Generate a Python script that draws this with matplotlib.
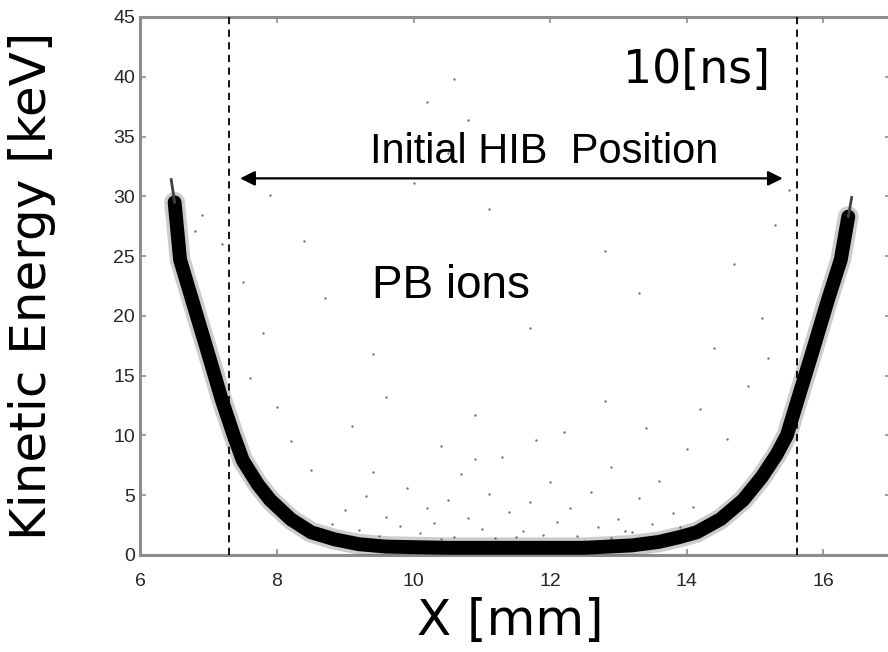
import matplotlib.pyplot as plt

# centre line of the dense ion band, x [mm] vs kinetic energy [keV]
band_x = [6.45, 6.50, 6.58, 6.80, 7.02, 7.19, 7.36, 7.50, 7.72, 7.90, 8.20, 8.50,
          8.85, 9.20, 9.60, 10.5, 11.5, 12.5, 13.2, 13.6, 13.9, 14.15, 14.50,
          14.83, 15.10, 15.32, 15.47, 15.63, 15.85, 16.07, 16.26, 16.37, 16.42]
band_e = [31.4, 29.5, 24.7, 20.5, 16.3, 13.0, 10.1, 7.9, 5.9, 4.6, 3.0, 1.9,
          1.3, 0.9, 0.7, 0.6, 0.6, 0.6, 0.8, 1.1, 1.5, 1.9, 3.0,
          4.6, 6.5, 8.4, 10.0, 13.0, 17.1, 21.3, 24.7, 28.3, 29.9]

# scattered ions away from the band
stray_x = [8.8, 9.0, 9.2, 9.3, 9.5, 9.6, 9.8, 9.9, 10.1, 10.2, 10.3, 10.5, 10.6, 10.7,
           10.8, 11.0, 11.1, 11.2, 11.3, 11.4, 11.6, 11.7, 11.9, 12.0, 12.1, 12.3,
           12.4, 12.6, 12.7, 12.9, 13.0, 13.2, 13.3, 13.5, 13.6, 13.8, 14.0, 14.1,
           8.2, 8.5, 8.0, 7.6, 7.8, 9.1, 9.6, 10.4, 10.9, 12.2, 12.8, 13.4, 14.2,
           14.6, 14.9, 15.2, 15.1, 14.4, 9.4, 8.7, 7.5, 7.2, 6.9, 6.8,
           9.9, 10.2, 10.5, 10.6, 10.8, 10.0, 11.1, 12.8, 13.3, 11.7, 15.3, 14.7,
           15.5, 7.9, 8.4, 9.7, 10.4, 11.5, 12.5, 13.1, 13.9, 9.4, 11.8, 12.9, 10.9]
stray_e = [2.6, 3.8, 2.1, 4.9, 1.6, 3.2, 2.4, 5.6, 1.8, 3.9, 2.7, 4.6, 1.5, 6.8,
           3.1, 2.2, 5.1, 1.4, 8.2, 3.6, 2.0, 4.4, 1.7, 6.1, 2.8, 3.9,
           1.6, 5.3, 2.3, 7.4, 3.0, 1.9, 4.8, 2.6, 6.2, 3.5, 8.9, 4.0,
           9.5, 7.1, 12.4, 14.8, 18.6, 10.8, 13.2, 9.1, 11.7, 10.3, 12.9, 10.6, 12.2,
           9.7, 14.1, 16.5, 19.8, 17.3, 16.8, 21.5, 22.8, 26.0, 28.4, 27.1,
           35.2, 37.9, 33.6, 39.8, 36.4, 31.1, 28.9, 25.4, 21.9, 19.0, 27.6, 24.3,
           30.5, 30.1, 26.3, 1.2, 1.3, 1.5, 1.2, 2.0, 2.3, 6.9, 9.6, 1.4, 8.0]

hib_left = 7.30
hib_right = 15.62

fig = plt.figure(figsize=(8.88, 6.52), dpi=100)
ax = fig.add_axes([0.1582, 0.1488, 0.8455, 0.8252])

ax.scatter(stray_x, stray_e, s=3, color='0.45', linewidths=0, zorder=2)

# soft edge, then the dense core of the band; thin tails at both tops
core_x = band_x[1:-1]
core_e = band_e[1:-1]
ax.plot(core_x, core_e, color='0.35', lw=15, alpha=0.3,
        solid_joinstyle='round', solid_capstyle='round', zorder=3)
ax.plot(core_x, core_e, color='black', lw=10,
        solid_joinstyle='round', solid_capstyle='round', zorder=4)
ax.plot(band_x[:2], band_e[:2], color='0.25', lw=2, zorder=4)
ax.plot(band_x[-2:], band_e[-2:], color='0.25', lw=2, zorder=4)

ax.axvline(hib_left, color='black', lw=1.3, ls=(0, (4, 3)), zorder=5)
ax.axvline(hib_right, color='black', lw=1.3, ls=(0, (4, 3)), zorder=5)

ax.annotate('', xy=(7.46, 31.5), xytext=(15.41, 31.5),
            arrowprops=dict(arrowstyle='<|-|>', color='black', lw=1.6,
                            mutation_scale=22, shrinkA=0, shrinkB=0))

ax.text(9.36, 32.8, 'Initial HIB  Position', fontsize=30,
        family='Liberation Sans', ha='left', va='baseline')
ax.text(9.39, 21.5, 'PB ions', fontsize=33,
        family='Liberation Sans', ha='left', va='baseline')
ax.text(15.22, 39.5, '10[ns]', fontsize=33,
        family='DejaVu Sans', ha='right', va='baseline')

ax.set_xlim(6, 17)
ax.set_ylim(0, 45)
ax.set_xticks([6, 8, 10, 12, 14, 16])
ax.set_yticks(range(0, 46, 5))

for s in ax.spines.values():
    s.set_color('0.55')
    s.set_linewidth(2.2)
ax.tick_params(direction='in', length=4, width=1.2, color='0.55',
               top=True, right=True, labelsize=14, labelcolor='0.15')
ax.tick_params(axis='x', pad=13)
ax.tick_params(axis='y', pad=4)
for lab in ax.get_xticklabels() + ax.get_yticklabels():
    lab.set_family('Liberation Sans')

ax.set_xlabel('X [mm]', fontsize=36, family='DejaVu Sans')
ax.set_ylabel('Kinetic Energy [keV]', fontsize=36, family='DejaVu Sans')
ax.xaxis.set_label_coords(0.492, -0.078)
ax.yaxis.set_label_coords(-0.1125, 0.5)

fig.savefig('out.png', dpi=100)
